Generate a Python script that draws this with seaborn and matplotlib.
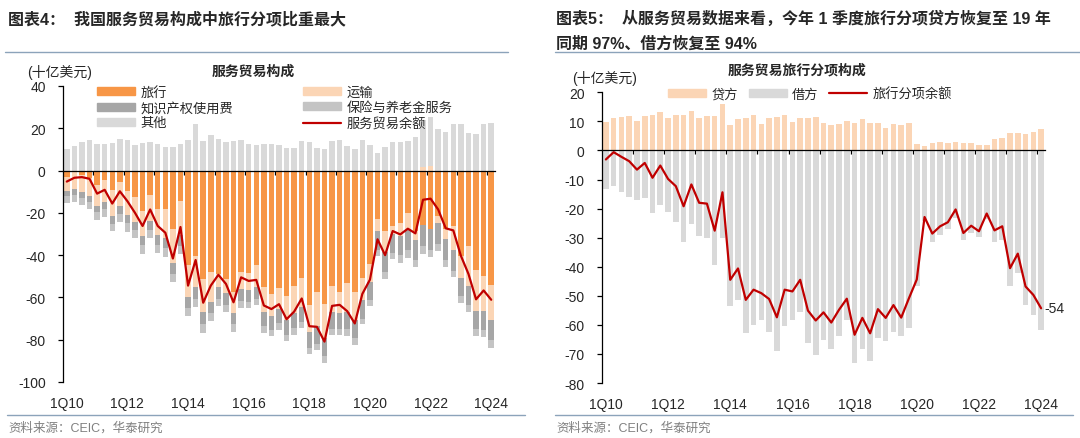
import numpy as np
import pandas as pd
import seaborn as sns
from matplotlib import pyplot as plt
from matplotlib.patches import Patch
from matplotlib.lines import Line2D

# quarterly data 1Q10 .. 1Q24, 十亿美元
tick_labels = ['1Q10', '1Q12', '1Q14', '1Q16', '1Q18', '1Q20', '1Q22', '1Q24']

# travel balance (used in both panels)
travel_bal = [-3.1, -0.6, -2.2, -3.7, -6.6, -4.3, -9.4, -5.2, -9.8, -12.3,
              -19.2, -11.7, -18.0, -18.3, -27.6, -14.4, -44.5, -40.6, -51.4, -47.9,
              -49.1, -51.1, -57.4, -47.9, -48.5, -44.5, -55.1, -58.5, -55.7, -59.2,
              -54.8, -51.0, -63.4, -57.6, -62.9, -54.6, -57.6, -53.2, -57.5, -50.8,
              -44.4, -22.9, -28.6, -26.1, -24.7, -20.3, -28.4, -25.9, -27.8, -21.7,
              -27.5, -26.1, -40.5, -35.5, -46.8, -49.7, -54.3]

transport = [-6.4, -8.2, -7.9, -8.1, -10.0, -10.5, -12.2, -11.7, -11.2, -11.9,
             -11.9, -12.0, -12.4, -13.6, -15.9, -16.3, -15.1, -14.5, -15.4, -14.1,
             -6.2, -6.8, -9.8, -8.2, -7.9, -10.7, -12.0, -10.2, -9.7, -11.7,
             -12.5, -13.3, -12.8, -16.1, -16.3, -12.2, -9.7, -13.6, -13.2, -10.4,
             -8.1, -5.7, -10.1, -3.7, -6.2, -8.0, -4.3, 1.8, 2.3, -3.3,
             -4.7, -11.5, -10.4, -19.0, -19.5, -16.6, -16.4]

ip_fees = [-2.5, -2.8, -2.8, -3.1, -3.2, -3.3, -3.6, -3.7, -3.7, -4.0,
           -4.2, -4.5, -4.6, -4.9, -5.2, -5.0, -5.2, -5.5, -5.8, -5.3,
           -5.3, -5.5, -5.4, -5.6, -5.6, -5.7, -6.2, -6.5, -6.8, -6.7,
           -7.0, -7.1, -7.8, -8.1, -8.7, -8.2, -7.8, -8.3, -8.5, -8.8,
           -8.5, -9.0, -9.3, -9.0, -9.2, -9.5, -9.4, -9.8, -9.6, -9.9,
           -10.0, -9.7, -8.6, -8.9, -8.7, -9.2, -9.5]

insurance = [-3.2, -3.5, -3.5, -3.4, -3.6, -3.8, -3.5, -3.9, -4.2, -3.8,
             -4.0, -3.8, -4.0, -3.9, -4.2, -3.8, -4.0, -3.7, -4.0, -3.8,
             -3.4, -3.5, -3.6, -3.3, -3.0, -2.8, -3.3, -3.1, -3.0, -3.2,
             -3.3, -3.0, -2.9, -3.0, -3.2, -2.9, -2.8, -3.0, -3.1, -2.7,
             -2.9, -3.0, -3.3, -3.1, -3.4, -3.6, -3.5, -3.7, -3.5, -3.3,
             -3.4, -3.2, -3.0, -3.3, -3.1, -3.4, -3.6]

other = [10.0, 11.7, 13.3, 14.4, 12.5, 12.8, 13.1, 14.7, 14.4, 12.0,
         13.1, 13.6, 12.8, 11.3, 11.3, 12.8, 14.4, 22.0, 14.1, 16.7,
         14.7, 13.3, 13.9, 14.5, 12.8, 12.0, 12.8, 12.8, 12.0, 10.5,
         10.9, 13.9, 13.3, 10.9, 10.2, 13.9, 14.4, 11.6, 10.0, 14.4,
         12.3, 8.1, 11.3, 13.3, 13.3, 13.9, 15.9, 22.0, 23.0, 19.8,
         18.3, 22.2, 22.2, 17.8, 17.2, 22.2, 22.7]

services_bal = [-5.2, -3.4, -3.1, -3.9, -10.9, -9.1, -15.6, -9.8, -14.5, -20.0,
                -26.2, -18.4, -26.2, -29.4, -41.6, -26.7, -54.4, -42.3, -62.5, -54.4,
                -49.3, -53.6, -62.3, -50.5, -52.2, -51.7, -63.8, -65.5, -63.2, -70.3,
                -66.7, -60.5, -73.6, -73.9, -80.9, -64.0, -63.5, -66.5, -72.3, -58.3,
                -51.6, -32.5, -40.0, -28.6, -30.2, -27.5, -29.7, -13.8, -13.3, -18.4,
                -27.3, -28.3, -40.3, -48.9, -60.9, -56.7, -61.1]

travel_credit = [9.9, 11.3, 11.5, 11.8, 10.1, 11.8, 12.1, 13.3, 11.0, 12.2,
                 12.2, 13.6, 11.0, 11.7, 11.7, 15.9, 8.9, 10.7, 11.0, 12.1,
                 9.0, 11.0, 11.6, 12.3, 9.8, 11.3, 11.0, 11.4, 9.3, 8.7,
                 9.2, 10.2, 9.5, 10.8, 9.5, 9.5, 7.8, 9.0, 8.6, 9.5,
                 2.1, 1.5, 2.6, 2.9, 2.4, 2.9, 2.5, 2.6, 2.0, 2.0,
                 3.8, 4.4, 5.9, 5.9, 5.7, 6.4, 7.5]

travel_debit = [-13.1, -12.4, -14.2, -15.9, -17.0, -16.2, -21.6, -18.8, -21.1, -24.7,
                -31.4, -25.2, -29.3, -30.0, -39.4, -30.2, -53.4, -51.3, -62.8, -60.0,
                -58.3, -62.5, -69.1, -60.3, -58.5, -55.7, -66.4, -70.2, -65.2, -68.4,
                -64.0, -58.3, -73.0, -68.4, -72.6, -64.4, -65.4, -62.3, -64.0, -61.1,
                -46.6, -24.4, -31.4, -29.0, -27.1, -23.4, -30.9, -28.5, -29.8, -23.7,
                -31.6, -30.7, -46.6, -42.0, -53.1, -56.6, -61.7]

# colours
C_TRAVEL = '#F79646'
C_TRANS = '#FBD5B5'
C_IP = '#A6A6A6'
C_INS = '#C4C4C4'
C_OTHER = '#D9D9D9'
C_LINE = '#C00000'
C_SEP = '#8CA3BA'

sns.set_theme(style='white')
plt.rcParams['font.family'] = ['Liberation Sans', 'Noto Sans CJK SC']
plt.rcParams['axes.unicode_minus'] = False

W, H = 1080, 439
def fx(x):
    return x / W
def fy(y):
    return 1 - y / H

q = np.arange(len(travel_bal))
df1 = pd.DataFrame({'q': q, 'travel': travel_bal, 'trans': transport, 'ip': ip_fees,
                    'ins': insurance, 'other': other, 'bal': services_bal})
df1['trans_pos'] = df1['trans'].clip(lower=0)
df1['trans_neg'] = df1['trans'].clip(upper=0)
df1['pos_top'] = df1['other'] + df1['trans_pos']
df1['n2'] = df1['travel'] + df1['trans_neg']
df1['n3'] = df1['n2'] + df1['ip']
df1['n4'] = df1['n3'] + df1['ins']

df2 = pd.DataFrame({'q': q, 'credit': travel_credit, 'debit': travel_debit, 'bal': travel_bal})

fig = plt.figure(figsize=(10.8, 4.39), dpi=100)
ax1 = fig.add_axes([fx(63), fy(383), fx(432), 296 / H])
ax2 = fig.add_axes([fx(602), fy(384), fx(443), 290.7 / H])

bw = 0.72
bar_kw = dict(width=bw, edgecolor='none', linewidth=0, errorbar=None, saturation=1)

# left: stacked via overlapping cumulative bars
for col, c in [('pos_top', C_OTHER), ('trans_pos', C_TRANS), ('n4', C_INS),
               ('n3', C_IP), ('n2', C_TRANS), ('travel', C_TRAVEL)]:
    sns.barplot(data=df1, x='q', y=col, color=c, ax=ax1, **bar_kw)
sns.lineplot(data=df1, x='q', y='bal', color=C_LINE, linewidth=1.6, ax=ax1)

# right
sns.barplot(data=df2, x='q', y='credit', color=C_TRANS, ax=ax2, **bar_kw)
sns.barplot(data=df2, x='q', y='debit', color=C_OTHER, ax=ax2, **bar_kw)
sns.lineplot(data=df2, x='q', y='bal', color=C_LINE, linewidth=1.6, ax=ax2)
ax2.annotate(f"{round(travel_bal[-1])}", xy=(q[-1], travel_bal[-1]), xytext=(2, 0),
             textcoords='offset points', va='center', ha='left', fontsize=10)

for ax, ylim, step in [(ax1, (-100, 40), 20), (ax2, (-80, 20), 10)]:
    ax.set_xlim(-0.5, len(q) - 0.5)
    ax.set_ylim(*ylim)
    ax.set_yticks(np.arange(ylim[0], ylim[1] + 1, step))
    ax.set_xlabel('')
    ax.set_ylabel('')
    for s in ['top', 'right']:
        ax.spines[s].set_visible(False)
    ax.spines['left'].set_color('black')
    ax.spines['left'].set_linewidth(0.9)
    ax.spines['bottom'].set_position(('data', 0))
    ax.spines['bottom'].set_color('black')
    ax.spines['bottom'].set_linewidth(0.9)
    ax.set_xticks(np.arange(3.5, len(q) - 1, 4))
    ax.tick_params(axis='x', direction='out', length=3, width=0.9, color='black',
                   bottom=True, labelbottom=False)
    ax.tick_params(axis='y', direction='out', length=3.5, width=0.9, color='black',
                   left=True, pad=9, labelsize=10)
    sec = ax.secondary_xaxis('bottom')
    sec.set_xticks(np.arange(0, len(q), 8))
    sec.set_xticklabels(tick_labels)
    sec.tick_params(length=0, pad=10, labelsize=10)
    sec.spines['bottom'].set_visible(False)

# legends
h1 = [Patch(color=C_TRAVEL), Patch(color=C_IP), Patch(color=C_OTHER),
      Patch(color=C_TRANS), Patch(color=C_INS), Line2D([], [], color=C_LINE, lw=1.6)]
l1 = ['旅行', '知识产权使用费', '其他', '运输', '保险与养老金服务', '服务贸易余额']
ax1.legend(h1, l1, ncol=2, loc='upper left', bbox_to_anchor=(fx(97), fy(86.5)),
           bbox_transform=fig.transFigure, frameon=False, fontsize=9.5,
           handlelength=2.9, handleheight=0.55, handletextpad=0.4,
           columnspacing=5.3, labelspacing=0.22, borderpad=0, borderaxespad=0)

h2 = [Patch(color=C_TRANS), Patch(color=C_OTHER), Line2D([], [], color=C_LINE, lw=1.6)]
l2 = ['贷方', '借方', '旅行分项余额']
ax2.legend(h2, l2, ncol=3, loc='upper left', bbox_to_anchor=(fx(668), fy(88.5)),
           bbox_transform=fig.transFigure, frameon=False, fontsize=9.5,
           handlelength=2.9, handleheight=0.55, handletextpad=0.4,
           columnspacing=0.8, borderpad=0, borderaxespad=0)

# texts
tkw = dict(fontsize=11.5, fontweight='bold', va='center', ha='left')
fig.text(fx(8), fy(19), '图表4：  我国服务贸易构成中旅行分项比重最大', **tkw)
fig.text(fx(556), fy(19), '图表5：  从服务贸易数据来看，今年 1 季度旅行分项贷方恢复至 19 年', **tkw)
fig.text(fx(556), fy(44), '同期 97%、借方恢复至 94%', **tkw)

fig.text(fx(253), fy(72), '服务贸易构成', fontsize=10, fontweight='bold', ha='center', va='center')
fig.text(fx(797), fy(70), '服务贸易旅行分项构成', fontsize=10, fontweight='bold', ha='center', va='center')
fig.text(fx(27), fy(72), '(十亿美元)', fontsize=10, va='center', ha='left')
fig.text(fx(572), fy(79), '(十亿美元)', fontsize=10, va='center', ha='left')

fig.text(fx(8), fy(428), '资料来源：CEIC，华泰研究', fontsize=9, color='#808080', va='center')
fig.text(fx(556), fy(428), '资料来源：CEIC，华泰研究', fontsize=9, color='#808080', va='center')

for x0, x1, y in [(5, 508, 53), (555, 1080, 53), (7, 525, 416), (555, 1073, 416)]:
    fig.add_artist(Line2D([fx(x0), fx(x1)], [fy(y), fy(y)], color=C_SEP, lw=1.0))

fig.savefig('out.png', dpi=100)
